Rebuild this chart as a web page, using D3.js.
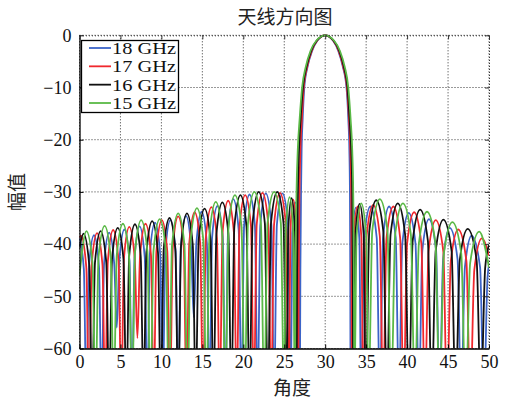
<!DOCTYPE html>
<html><head><meta charset="utf-8">
<script src="https://cdn.jsdelivr.net/npm/d3@7"></script>
<style>body{margin:0;background:#fff}</style>
</head><body><svg id="c" width="505" height="404"></svg>
<script>
const titleText = "天线方向图";
const xLabelText = "角度";
const yLabelText = "幅值";
const seriesNames = ["18 GHz", "17 GHz", "16 GHz", "15 GHz"];
const xTicks = [0, 5, 10, 15, 20, 25, 30, 35, 40, 45, 50];
const yTicks = [0, -10, -20, -30, -40, -50, -60];

// [angle, dB] key points (lobe nulls, shoulders, peaks)
const s18 = [[0,-38.8],[0.53,-44.8],[0.84,-70],
[1.15,-44.3],[1.77,-38.3],[2.38,-44.3],[2.69,-70],
[3.0,-43.8],[3.62,-37.8],[4.24,-43.8],[4.55,-56],
[4.86,-43.2],[5.48,-37.2],[6.1,-43.2],[6.41,-70],
[6.72,-42.6],[7.34,-36.6],[7.97,-42.6],[8.28,-70],
[8.59,-41.9],[9.22,-35.9],[9.85,-41.9],[10.16,-70],
[10.48,-41.4],[11.1,-35.4],[11.74,-41.4],[12.05,-70],
[12.37,-40.6],[13.0,-34.6],[13.63,-40.6],[13.95,-54],
[14.27,-39.8],[14.91,-33.8],[15.55,-39.8],[15.87,-70],
[16.19,-38.7],[16.84,-32.7],[17.49,-38.7],[17.81,-70],
[18.14,-37.4],[18.78,-31.4],[19.44,-37.4],[19.77,-70],
[20.1,-36.5],[20.76,-30.5],[21.42,-36.5],[21.75,-70],
[22.08,-36.3],[22.75,-30.3],[23.43,-36.3],[23.76,-70],
[24.1,-36.3],[24.78,-30.3],[25.46,-36.3],[25.8,-70],
[25.98,-38],[26.35,-32],[26.72,-38],[26.9,-70],
[26.97,-45],[27.05,-30],[27.12,-22],[27.25,-16],[27.45,-10],[27.85,-6],[28.4,-3],[29.05,-1],[30,0],
[30.95,-1],[31.6,-3],[32.15,-6],[32.6,-10],[32.82,-16],[32.95,-22],[33.02,-30],[33.06,-45],[33.1,-70],
[33.31,-39],[33.74,-33],[34.17,-39],[34.38,-70],
[34.76,-38.8],[35.51,-32.8],[36.29,-38.8],[36.67,-70],
[37.06,-38.8],[37.8,-32.8],[38.61,-38.8],[39.0,-70],
[39.41,-40],[40.2,-34],[41.03,-40],[41.44,-70],
[41.86,-41.2],[42.67,-35.2],[43.54,-41.2],[43.96,-70],
[44.4,-42.9],[45.21,-36.9],[46.16,-42.9],[46.6,-70],
[47.06,-44.4],[47.87,-38.4],[48.91,-44.4],[49.37,-70],
[49.82,-46.4],[50,-44]];

const s17 = [[0,-38.8],[0.18,-38.4],[0.83,-44.4],[1.16,-70],
[1.49,-43.9],[2.14,-37.9],[2.8,-43.9],[3.13,-70],
[3.46,-43.3],[4.11,-37.3],[4.77,-43.3],[5.1,-70],
[5.43,-42.7],[6.08,-36.7],[6.74,-42.7],[7.07,-58],
[7.4,-42.1],[8.06,-36.1],[8.73,-42.1],[9.06,-70],
[9.39,-41.4],[10.05,-35.4],[10.72,-41.4],[11.05,-70],
[11.39,-40.7],[12.05,-34.7],[12.73,-40.7],[13.06,-70],
[13.4,-39.9],[14.06,-33.9],[14.74,-39.9],[15.08,-70],
[15.42,-38.9],[16.1,-32.9],[16.78,-38.9],[17.12,-70],
[17.47,-37.7],[18.15,-31.7],[18.85,-37.7],[19.19,-70],
[19.54,-36.6],[20.23,-30.6],[20.94,-36.6],[21.29,-70],
[21.64,-36.2],[22.34,-30.2],[23.05,-36.2],[23.4,-70],
[23.76,-36.2],[24.48,-30.2],[25.2,-36.2],[25.56,-70],
[25.75,-37.5],[26.1,-31.5],[26.5,-37.5],[26.7,-70],
[26.77,-45],[26.86,-30],[26.97,-22],[27.15,-16],[27.38,-10],[27.8,-6],[28.35,-3],[29.02,-1],[30,0],
[30.98,-1],[31.65,-3],[32.2,-6],[32.65,-10],[32.9,-16],[33.07,-22],[33.17,-30],[33.22,-45],[33.25,-70],
[33.48,-38.8],[33.95,-32.8],[34.42,-38.8],[34.65,-70],
[35.05,-38.5],[35.86,-32.5],[36.67,-38.5],[37.07,-70],
[37.49,-38.8],[38.32,-32.8],[39.15,-38.8],[39.57,-70],
[40.0,-39.9],[40.86,-33.9],[41.74,-39.9],[42.17,-70],
[42.62,-41.4],[43.5,-35.4],[44.42,-41.4],[44.87,-70],
[45.34,-43.2],[46.24,-37.2],[47.24,-43.2],[47.71,-70],
[48.21,-44.9],[49.12,-38.9],[50,-42.2]];

const s16 = [[0,-40.7],[0.49,-38],[1.19,-44],[1.54,-70],
[1.89,-43.5],[2.58,-37.5],[3.27,-43.5],[3.62,-70],
[3.97,-42.9],[4.67,-36.9],[5.37,-42.9],[5.72,-70],
[6.07,-42.2],[6.77,-36.2],[7.47,-42.2],[7.82,-70],
[8.17,-41.6],[8.87,-35.6],[9.58,-41.6],[9.93,-70],
[10.28,-41],[10.99,-35],[11.7,-41],[12.05,-70],
[12.41,-40.1],[13.12,-34.1],[13.83,-40.1],[14.19,-70],
[14.55,-39.2],[15.27,-33.2],[16.0,-39.2],[16.36,-70],
[16.72,-38],[17.44,-32],[18.18,-38],[18.54,-70],
[18.91,-36.6],[19.65,-30.6],[20.39,-36.6],[20.76,-70],
[21.13,-36],[21.88,-30],[22.63,-36],[23.0,-70],
[23.38,-36],[24.14,-30],[24.91,-36],[25.29,-70],
[25.49,-37.2],[25.9,-31.2],[26.3,-37.2],[26.5,-70],
[26.57,-45],[26.67,-30],[26.8,-22],[27.0,-16],[27.28,-10],[27.72,-6],[28.28,-3],[28.98,-1],[30,0],
[31.02,-1],[31.72,-3],[32.28,-6],[32.72,-10],[32.98,-16],[33.18,-22],[33.3,-30],[33.37,-45],[33.42,-70],
[33.68,-38.3],[34.2,-32.3],[34.7,-38.3],[34.95,-70],
[35.38,-37.6],[36.23,-31.6],[37.1,-37.6],[37.53,-70],
[37.98,-38.2],[38.86,-32.2],[39.76,-38.2],[40.21,-70],
[40.68,-39.4],[41.59,-33.4],[42.54,-39.4],[43.0,-70],
[43.49,-41.3],[44.43,-35.3],[45.43,-41.3],[45.92,-70],
[46.43,-43.1],[47.4,-37.1],[48.49,-43.1],[49.0,-70],
[49.53,-44.6],[50,-40.2]];

const s15 = [[0,-46],[0.84,-37.5],[1.58,-43.5],[1.95,-70],
[2.32,-42.5],[3.07,-36.5],[3.81,-42.5],[4.18,-70],
[4.55,-42.1],[5.3,-36.1],[6.04,-42.1],[6.41,-70],
[6.79,-41.4],[7.53,-35.4],[8.29,-41.4],[8.66,-70],
[9.04,-41.2],[9.79,-35.2],[10.54,-41.2],[10.92,-70],
[11.3,-40.1],[12.05,-34.1],[12.81,-40.1],[13.19,-70],
[13.57,-39.1],[14.34,-33.1],[15.11,-39.1],[15.49,-70],
[15.88,-37.9],[16.64,-31.9],[17.42,-37.9],[17.81,-70],
[18.2,-36.6],[18.98,-30.6],[19.78,-36.6],[20.17,-70],
[20.57,-36],[21.35,-30],[22.15,-36],[22.55,-70],
[22.96,-36],[23.76,-30],[24.58,-36],[24.98,-70],
[25.2,-37],[25.65,-31],[26.08,-37],[26.3,-70],
[26.38,-45],[26.5,-30],[26.65,-22],[26.88,-16],[27.18,-10],[27.63,-6],[28.2,-3],[28.93,-1],[30,0],
[31.07,-1],[31.8,-3],[32.38,-6],[32.82,-10],[33.1,-16],[33.3,-22],[33.42,-30],[33.5,-45],[33.55,-70],
[33.84,-38.2],[34.4,-32.2],[35.0,-38.2],[35.29,-70],
[35.75,-37.4],[36.67,-31.4],[37.6,-37.4],[38.06,-70],
[38.54,-38.2],[39.49,-32.2],[40.46,-38.2],[40.94,-70],
[41.44,-39.8],[42.43,-33.8],[43.46,-39.8],[43.96,-70],
[44.49,-41.8],[45.53,-35.8],[46.61,-41.8],[47.14,-70],
[47.7,-43.6],[48.8,-37.6],[50,-44.5]];

const seriesData = [s18, s17, s16, s15];
const colors = ["#3c64c8", "#f0282d", "#111111", "#5ab946"];

const svg = d3.select("#c");
const L = 79.5, R = 489, T = 35.3, B = 348.5;
const x = d3.scaleLinear().domain([0, 50]).range([L, R]);
const y = d3.scaleLinear().domain([-60, 0]).range([B, T]);
const numFont = "'Liberation Serif', 'Times New Roman', serif";
const cjkFont = "'Noto Sans CJK SC', sans-serif";

svg.append("rect").attr("x", L).attr("y", T).attr("width", R - L).attr("height", B - T).attr("fill", "#fff");

// grid
const grid = svg.append("g").attr("stroke", "#333").attr("stroke-width", 1).attr("stroke-dasharray", "1,2");
grid.selectAll("line.v").data(xTicks).join("line")
  .attr("x1", d => x(d)).attr("x2", d => x(d)).attr("y1", T).attr("y2", B);
grid.selectAll("line.h").data(yTicks).join("line").attr("class", "h")
  .attr("x1", L).attr("x2", R).attr("y1", d => y(d)).attr("y2", d => y(d));

// clip + lines
svg.append("clipPath").attr("id", "clip").append("rect")
  .attr("x", L).attr("y", T - 2).attr("width", R - L).attr("height", B - T + 2);
const line = d3.line().x(d => x(d[0])).y(d => y(d[1])).curve(d3.curveMonotoneX);
svg.append("g").attr("clip-path", "url(#clip)")
  .selectAll("path").data(seriesData).join("path")
  .attr("d", line).attr("fill", "none")
  .attr("stroke", (d, i) => colors[i]).attr("stroke-width", 1.8)
  .attr("stroke-linejoin", "round");

// axes
const ax = svg.append("g").attr("transform", `translate(0,${B})`)
  .call(d3.axisBottom(x).tickValues(xTicks).tickSize(-4).tickSizeOuter(0).tickPadding(7));
const ay = svg.append("g").attr("transform", `translate(${L},0)`)
  .call(d3.axisLeft(y).tickValues(yTicks).tickSize(-4).tickSizeOuter(0).tickPadding(8));
const at = svg.append("g").attr("transform", `translate(0,${T})`)
  .call(d3.axisTop(x).tickValues(xTicks).tickSize(-4).tickSizeOuter(0).tickFormat(""));
const ar = svg.append("g").attr("transform", `translate(${R},0)`)
  .call(d3.axisRight(y).tickValues(yTicks).tickSize(-4).tickSizeOuter(0).tickFormat(""));
[ax, ay].forEach(g => {
  g.select(".domain").attr("stroke", "#000").attr("stroke-width", 1.3);
  g.selectAll(".tick line").attr("stroke", "#000");
  g.selectAll(".tick text").attr("font-family", numFont).attr("font-size", 18).attr("fill", "#111");
});
[at, ar].forEach(g => {
  g.select(".domain").attr("stroke", "#333").attr("stroke-dasharray", "1,2");
  g.selectAll(".tick line").attr("stroke", "#333");
});

// legend
const lg = svg.append("g");
lg.append("rect").attr("x", 81.5).attr("y", 40.5).attr("width", 97).attr("height", 72)
  .attr("fill", "#fff").attr("stroke", "#000").attr("stroke-width", 1.3);
const legendY = d3.scalePoint().domain(seriesNames).range([48, 103]);
seriesNames.forEach((n, i) => {
  const yy = legendY(n);
  lg.append("line").attr("x1", 89).attr("x2", 111).attr("y1", yy).attr("y2", yy)
    .attr("stroke", colors[i]).attr("stroke-width", 1.8);
  lg.append("text").attr("x", 112).attr("y", yy + 6).text(n)
    .attr("font-family", numFont).attr("font-size", 16.5).attr("fill", "#111")
    .attr("textLength", 64).attr("lengthAdjust", "spacingAndGlyphs");
});

// titles
svg.append("text").attr("x", 285).attr("y", 24).attr("text-anchor", "middle")
  .attr("font-family", cjkFont).attr("font-size", 19).attr("fill", "#222").text(titleText);
svg.append("text").attr("x", 292).attr("y", 395).attr("text-anchor", "middle")
  .attr("font-family", cjkFont).attr("font-size", 19).attr("fill", "#222").text(xLabelText);
svg.append("text").attr("transform", "translate(24,192) rotate(-90)").attr("text-anchor", "middle")
  .attr("font-family", cjkFont).attr("font-size", 19).attr("fill", "#222").text(yLabelText);
</script></body></html>
